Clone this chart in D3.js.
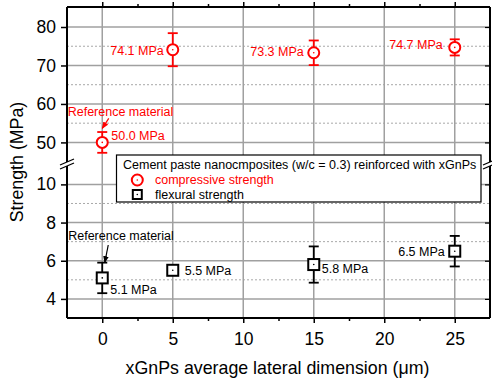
<!DOCTYPE html>
<html>
<head>
<meta charset="utf-8">
<script src="https://cdn.jsdelivr.net/npm/d3@7/dist/d3.min.js"></script>
<style>
  body { margin: 0; background: #fff; }
  text { font-family: "Liberation Sans", Arial, sans-serif; }
</style>
</head>
<body>
<div id="chart-area"></div>
<script>
// data
var sizes = [0, 5, 15, 25];                 // xGnPs lateral dimension (um)
var compressive = [50.0, 74.1, 73.3, 74.7]; // MPa
var compressiveErr = [2.7, 4.3, 3.2, 2.1];
var flexural = [5.1, 5.5, 5.8, 6.5];        // MPa
var flexuralErr = [0.8, 0.2, 0.95, 0.8];
var xTicks = [0, 5, 10, 15, 20, 25];
var xMinor = [2.5, 7.5, 12.5, 17.5, 22.5];
var yUpTicks = [50, 60, 70, 80];
var yUpMinor = [55, 65, 75];
var yLoTicks = [4, 6, 8, 10];
var yLoMinor = [5, 7, 9];

var W = 492, H = 384;
var pLeft = 67, pRight = 490, pTop = 7, pBottom = 318;
var breakY = 164;
var small = "12.5px";

var svg = d3.select("#chart-area")
    .append("svg")
    .attr("width", W)
    .attr("height", H);

var x = d3.scaleLinear().domain([-2.5, 27.5]).range([pLeft, pRight]);
var yUp = d3.scaleLinear().domain([44.7, 85.2]).range([162.8, pTop]);
var yLo = d3.scaleLinear().domain([3, 11]).range([pBottom, 165.3]);

// grid
var grid = svg.append("g");
function hLine(y, dotted) {
    grid.append("line")
        .attr("x1", pLeft).attr("x2", pRight)
        .attr("y1", y).attr("y2", y)
        .attr("stroke", dotted ? "#a8a8a8" : "#a0a0a0")
        .attr("stroke-width", dotted ? 1 : 1.5)
        .attr("stroke-dasharray", dotted ? "2,2" : null);
}
yUpTicks.forEach(function (d) { hLine(yUp(d), false); });
yUpMinor.forEach(function (d) { hLine(yUp(d), true); });
yLoTicks.forEach(function (d) { hLine(yLo(d), false); });
yLoMinor.forEach(function (d) { hLine(yLo(d), true); });
xTicks.forEach(function (d) {
    grid.append("line")
        .attr("x1", x(d)).attr("x2", x(d))
        .attr("y1", pTop).attr("y2", pBottom)
        .attr("stroke", "#a0a0a0")
        .attr("stroke-width", 1.5);
});

// axes
var xAxis = d3.axisBottom(x).tickValues(xTicks).tickSize(5).tickSizeOuter(0);
svg.append("g")
    .attr("transform", "translate(0," + pBottom + ")")
    .call(xAxis)
    .call(function (g) {
        g.select(".domain").remove();
        g.selectAll("line").attr("stroke-width", 1.5);
        g.selectAll("text").attr("font-size", "17.5px").attr("dy", "1.1em")
            .attr("font-family", "Liberation Sans, Arial, sans-serif").attr("fill", "#000");
    });
svg.append("g")
    .attr("transform", "translate(0," + pBottom + ")")
    .call(d3.axisBottom(x).tickValues(xMinor).tickSize(3).tickFormat(""))
    .call(function (g) { g.select(".domain").remove(); g.selectAll("line").attr("stroke-width", 1.5); });
svg.append("g")
    .attr("transform", "translate(0," + pTop + ")")
    .call(d3.axisTop(x).tickValues(xTicks).tickSize(5).tickFormat(""))
    .call(function (g) { g.select(".domain").remove(); g.selectAll("line").attr("stroke-width", 1.5); });
svg.append("g")
    .attr("transform", "translate(0," + pTop + ")")
    .call(d3.axisTop(x).tickValues(xMinor).tickSize(3).tickFormat(""))
    .call(function (g) { g.select(".domain").remove(); g.selectAll("line").attr("stroke-width", 1.5); });

function yAxis(scale, ticks) {
    svg.append("g")
        .attr("transform", "translate(" + pLeft + ",0)")
        .call(d3.axisLeft(scale).tickValues(ticks).tickSize(6))
        .call(function (g) {
            g.select(".domain").remove();
            g.selectAll("line").attr("stroke-width", 1.5);
            g.selectAll("text").attr("font-size", "17.5px").attr("x", -11)
                .attr("font-family", "Liberation Sans, Arial, sans-serif").attr("fill", "#000");
        });
    svg.append("g")
        .attr("transform", "translate(" + pRight + ",0)")
        .call(d3.axisLeft(scale).tickValues(ticks).tickSize(5).tickFormat(""))
        .call(function (g) { g.select(".domain").remove(); g.selectAll("line").attr("stroke-width", 1.2); });
}
yAxis(yUp, yUpTicks);
yAxis(yLo, yLoTicks);

// frame with break
var frame = svg.append("g").attr("stroke", "#000").attr("stroke-width", 2).attr("fill", "none");
frame.append("line").attr("x1", pLeft).attr("x2", pRight).attr("y1", pTop).attr("y2", pTop);
frame.append("line").attr("x1", pLeft).attr("x2", pRight).attr("y1", pBottom).attr("y2", pBottom);
[pLeft, pRight].forEach(function (xx) {
    frame.append("line").attr("x1", xx).attr("x2", xx).attr("y1", pTop).attr("y2", breakY - 2);
    frame.append("line").attr("x1", xx).attr("x2", xx).attr("y1", breakY + 2).attr("y2", pBottom);
    [-2, 2].forEach(function (o) {
        frame.append("line")
            .attr("x1", xx - 7).attr("y1", breakY + o + 3)
            .attr("x2", xx + 7).attr("y2", breakY + o - 3)
            .attr("stroke-width", 1.3);
    });
});

// error bars and markers
function series(vals, errs, scale, color, shape) {
    var g = svg.append("g");
    vals.forEach(function (v, i) {
        var cx = x(sizes[i]), cy = scale(v);
        var y1 = scale(v + errs[i]), y2 = scale(v - errs[i]);
        g.append("line").attr("x1", cx).attr("x2", cx).attr("y1", y1).attr("y2", y2)
            .attr("stroke", color).attr("stroke-width", 1.8);
        [y1, y2].forEach(function (yy) {
            g.append("line").attr("x1", cx - 5).attr("x2", cx + 5).attr("y1", yy).attr("y2", yy)
                .attr("stroke", color).attr("stroke-width", 1.8);
        });
        if (shape === "circle") {
            g.append("circle").attr("cx", cx).attr("cy", cy).attr("r", 5.5)
                .attr("fill", "#fff").attr("stroke", color).attr("stroke-width", 2);
        } else {
            g.append("rect").attr("x", cx - 5.5).attr("y", cy - 5.5).attr("width", 11).attr("height", 11)
                .attr("fill", "#fff").attr("stroke", color).attr("stroke-width", 2);
        }
        g.append("circle").attr("cx", cx).attr("cy", cy).attr("r", 0.8).attr("fill", color);
    });
}
series(compressive, compressiveErr, yUp, "#ff0000", "circle");
series(flexural, flexuralErr, yLo, "#000", "square");

// value labels
var compOffset = [[9, -7, "start"], [-9, 1, "end"], [-10, -1, "end"], [-12, -3, "end"]];
var flexOffset = [[8, 12, "start"], [12, 0, "start"], [8, 4, "start"], [-10, 0, "end"]];
function valueLabels(vals, scale, offs, color) {
    svg.append("g").selectAll("text")
        .data(vals)
        .enter()
        .append("text")
        .attr("x", function (d, i) { return x(sizes[i]) + offs[i][0]; })
        .attr("y", function (d, i) { return scale(d) + offs[i][1]; })
        .attr("dy", "0.35em")
        .attr("text-anchor", function (d, i) { return offs[i][2]; })
        .attr("font-size", small)
        .attr("fill", color)
        .text(function (d) { return d.toFixed(1) + " MPa"; });
}
valueLabels(compressive, yUp, compOffset, "#ff0000");
valueLabels(flexural, yLo, flexOffset, "#000");

// reference material notes with arrows
var defs = svg.append("defs");
[["arR", "#ff0000"], ["arK", "#000"]].forEach(function (a) {
    defs.append("marker").attr("id", a[0]).attr("viewBox", "0 0 10 10")
        .attr("refX", 9).attr("refY", 5).attr("markerWidth", 6).attr("markerHeight", 6)
        .attr("orient", "auto")
        .append("path").attr("d", "M0,1L10,5L0,9z").attr("fill", a[1]);
});
function refNote(cx, ty, ax1, ay1, ax2, ay2, color, mk) {
    svg.append("text").attr("x", cx).attr("y", ty).attr("dy", "0.35em")
        .attr("text-anchor", "middle").attr("font-size", small).attr("fill", color)
        .text("Reference material");
    svg.append("line").attr("x1", ax1).attr("y1", ay1).attr("x2", ax2).attr("y2", ay2)
        .attr("stroke", color).attr("stroke-width", 1.2).attr("marker-end", "url(#" + mk + ")");
}
refNote(120.5, 112, x(0) + 6.5, yUp(compressive[0]) - 24, x(0), yUp(compressive[0]) - 14, "#ff0000", "arR");
refNote(121, 236, x(0) + 6, 245, x(0) + 2.5, yLo(flexural[0] + flexuralErr[0]), "#000", "arK");

// legend
var lg = svg.append("g");
lg.append("rect").attr("x", 116.5).attr("y", 155).attr("width", 364.5).attr("height", 47)
    .attr("fill", "#fff").attr("stroke", "#000").attr("stroke-width", 1.2);
lg.append("text").attr("x", 123).attr("y", 164.5).attr("dy", "0.35em").attr("font-size", small)
    .text("Cement paste nanocmposites (w/c = 0.3) reinforced with xGnPs");
lg.append("circle").attr("cx", 137.3).attr("cy", 180).attr("r", 5.5)
    .attr("fill", "#fff").attr("stroke", "#ff0000").attr("stroke-width", 2);
lg.append("circle").attr("cx", 137.3).attr("cy", 180).attr("r", 0.8).attr("fill", "#ff0000");
lg.append("text").attr("x", 155).attr("y", 180).attr("dy", "0.35em").attr("font-size", small)
    .attr("fill", "#ff0000").text("compressive strength");
lg.append("rect").attr("x", 132.8).attr("y", 190).attr("width", 9).attr("height", 9)
    .attr("fill", "#fff").attr("stroke", "#000").attr("stroke-width", 2);
lg.append("circle").attr("cx", 137.3).attr("cy", 194.5).attr("r", 0.8).attr("fill", "#000");
lg.append("text").attr("x", 155).attr("y", 194.5).attr("dy", "0.35em").attr("font-size", small)
    .text("flexural strength");

// axis titles
svg.append("text")
    .attr("x", 277.5)
    .attr("y", 368)
    .attr("dy", "0.35em")
    .attr("font-size", "17.8px")
    .attr("text-anchor", "middle")
    .text("xGnPs average lateral dimension (\u03bcm)");
svg.append("text")
    .attr("x", -162)
    .attr("y", 17)
    .attr("dy", "0.35em")
    .attr("font-size", "17.8px")
    .attr("text-anchor", "middle")
    .attr("transform", "rotate(-90)")
    .text("Strength (MPa)");
</script>
</body>
</html>
